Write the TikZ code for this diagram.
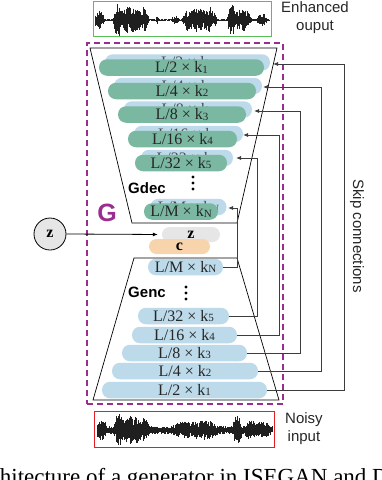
\documentclass[tikz,border=0pt]{standalone}
\usepackage{fontspec}
\setmainfont{Liberation Serif}
\setsansfont{Liberation Sans}
\usetikzlibrary{arrows.meta}
\definecolor{gbar}{RGB}{122,184,162}
\definecolor{bbar}{RGB}{188,218,234}
\definecolor{zbarc}{RGB}{230,230,230}
\definecolor{cbarc}{RGB}{247,212,172}
\definecolor{gpurp}{RGB}{155,45,145}
\definecolor{wgreen}{RGB}{90,190,90}
\definecolor{wred}{RGB}{228,30,36}
\definecolor{skipc}{RGB}{60,60,60}
\newcommand\kk[1]{k{\fontsize{11}{11}\selectfont\raisebox{-0.6pt}{#1}}}
\newcommand\lab[2]{L/#1 × \kk{#2}}
\begin{document}
\begin{tikzpicture}[x=1pt,y=-1pt,
  bar/.style={rounded corners=8pt,minimum height=16.5pt,inner sep=0pt,
    font=\fontsize{16}{16}\selectfont,text=black!85},
  dec/.style={bar,fill=gbar},
  enc/.style={bar,fill=bbar},
  shad/.style={bar,fill=bbar,text=black!70},
  small/.style={rounded corners=7.5pt,minimum height=15pt,inner sep=0pt,
    font=\fontsize{16}{16}\selectfont\bfseries},
  wave/.style={line width=0.55pt,black!88},
  trap/.style={draw=black,line width=0.7pt},
  skipl/.style={draw=skipc,line width=0.8pt,-{Latex[length=5pt,width=4pt]}},
  sidelab/.style={font=\fontsize{15}{18}\selectfont\sffamily,align=center,text=black!85,inner sep=0pt},
  glab/.style={font=\fontsize{15}{15}\selectfont\sffamily\bfseries,inner sep=0pt},
  gdot/.style={fill=black}]
\useasboundingbox (0,0) rectangle (382,480);

% enhanced output waveform
\node[draw=wgreen,line width=0.8pt,minimum width=178pt,minimum height=35pt,inner sep=0pt] (enh) at (182,18.5) {};
\pgfmathsetseed{11}
\foreach \x in {95,95.5,...,269}{
  \pgfmathsetmacro\e{0.8+9*max(0,1-((\x-99)/6)^2)+16*max(0,1-((\x-117)/4)^2)+13*max(0,1-((\x-131)/16)^2)+8*max(0,1-((\x-145)/4)^2)+5*max(0,1-((\x-157)/1.5)^2)+4*max(0,1-((\x-175)/4)^2)+7*max(0,1-((\x-186)/4)^2)+12*max(0,1-((\x-199)/14)^2)+9*max(0,1-((\x-212)/5)^2)+16*max(0,1-((\x-231)/4)^2)+11*max(0,1-((\x-242)/10)^2)+6*max(0,1-((\x-262)/6)^2)}
  \pgfmathsetmacro\a{min(16,\e*(0.25+0.75*rnd))}
  \pgfmathsetmacro\b{min(16,\e*(0.25+0.75*rnd))}
  \draw[wave] (\x,20-\a) -- (\x,20+\b);
}
\node[sidelab] (enhl) at (315,18) {Enhanced\\ouput};

% G box
\node[draw=gpurp,line width=1.8pt,dash pattern=on 6pt off 4pt,minimum width=196pt,minimum height=361pt,inner sep=0pt] (Gbox) at (185,223.5) {};
\node[font=\fontsize{25}{25}\selectfont\sffamily\bfseries,text=gpurp,inner sep=0pt] (G) at (107,213) {G};

% decoder bars
\node[shad,minimum width=165pt] (s1) at (187.5,62.5) {\lab{2}{1}};
\node[dec,minimum width=165pt] (d1) at (181.5,67.5) {\lab{2}{1}};
\node[shad,minimum width=148pt] (s2) at (188,86) {\lab{4}{2}};
\node[dec,minimum width=148pt] (d2) at (182,91) {\lab{4}{2}};
\node[shad,minimum width=128pt] (s3) at (188,109.5) {\lab{8}{3}};
\node[dec,minimum width=128pt] (d3) at (182,114.5) {\lab{8}{3}};
\node[shad,minimum width=109pt] (s4) at (188.5,134) {\lab{16}{4}};
\node[dec,minimum width=109pt] (d4) at (182.5,139) {\lab{16}{4}};
\node[shad,minimum width=92pt] (s5) at (187,158) {\lab{32}{5}};
\node[dec,minimum width=92pt] (d5) at (181,163) {\lab{32}{5}};
\node[shad,minimum width=76pt] (sN) at (188.5,207) {\lab{M}{N}};
\node[dec,minimum width=74pt] (dN) at (181,211.5) {\lab{M}{N}};
\fill[gdot] (193,177) circle[radius=1.7pt] (193,183) circle[radius=1.7pt] (193,189) circle[radius=1.7pt];
\node[glab] (gdec) at (147,188) {Gdec};
\draw[trap] (90,48) -- (277,48) -- (237,223) -- (132,223) -- cycle;

% latent
\node[small,fill=zbarc,minimum width=58pt] (zb) at (191,234.5) {z};
\node[small,fill=cbarc,minimum width=61pt] (cb) at (179.5,246.5) {c};
\node[circle,draw=black,line width=0.8pt,fill=zbarc,minimum size=32pt,inner sep=0pt,font=\fontsize{16}{16}\selectfont\bfseries] (zc) at (50,234) {z};
\draw[draw=black,line width=0.8pt,-{Latex[length=5pt,width=4pt]},shorten >=4pt] (zc.east) -- (zb.west);

% encoder bars
\node[enc,minimum width=75pt] (eN) at (185.5,267) {\lab{M}{N}};
\fill[gdot] (186,287) circle[radius=1.7pt] (186,293) circle[radius=1.7pt] (186,299) circle[radius=1.7pt];
\node[glab] (genc) at (147,292) {Genc};
\node[enc,minimum width=91pt] (e5) at (183.5,316) {\lab{32}{5}};
\node[enc,minimum width=105pt] (e4) at (184.5,335) {\lab{16}{4}};
\node[enc,minimum width=125pt] (e3) at (184.5,353) {\lab{8}{3}};
\node[enc,minimum width=146pt] (e2) at (185,371) {\lab{4}{2}};
\node[enc,minimum width=165pt] (e1) at (184.5,390) {\lab{2}{1}};
\draw[trap] (134,258) -- (237,258) -- (279,400) -- (93,400) -- cycle;

% skip connections
\coordinate (t1) at (273,64);
\coordinate (t2) at (263,87);
\coordinate (t3) at (254,111);
\coordinate (t4) at (243,135);
\coordinate (t5) at (236,158);
\coordinate (tN) at (228,208);
\coordinate (v1) at (344,0);
\coordinate (v2) at (321,0);
\coordinate (v3) at (300,0);
\coordinate (v4) at (279,0);
\coordinate (v5) at (257,0);
\coordinate (vN) at (237.5,0);
\draw[skipl] (e1.east) -- (e1.east -| v1) -- (v1 |- t1) -- (t1);
\draw[skipl] (e2.east) -- (e2.east -| v2) -- (v2 |- t2) -- (t2);
\draw[skipl] (e3.east) -- (e3.east -| v3) -- (v3 |- t3) -- (t3);
\draw[skipl] (e4.east) -- (e4.east -| v4) -- (v4 |- t4) -- (t4);
\draw[skipl] (e5.east) -- (e5.east -| v5) -- (v5 |- t5) -- (t5);
\draw[skipl] (eN.east) -- (eN.east -| vN) -- (vN |- tN) -- (tN);
\node[sidelab,rotate=-90] (skl) at (357,236) {Skip connections};

% noisy input waveform
\node[draw=wred,line width=0.8pt,minimum width=180pt,minimum height=36pt,inner sep=0pt] (noisy) at (184,429) {};
\pgfmathsetseed{5}
\foreach \x in {97,97.5,...,272}{
  \pgfmathsetmacro\e{4+7*max(0,1-((\x-101)/6)^2)+12*max(0,1-((\x-118)/4)^2)+10*max(0,1-((\x-132)/16)^2)+6*max(0,1-((\x-145)/4)^2)+5*max(0,1-((\x-187)/16)^2)+6*max(0,1-((\x-206)/12)^2)+12*max(0,1-((\x-237)/5)^2)+6*max(0,1-((\x-250)/6)^2)+4*max(0,1-((\x-262)/10)^2)}
  \pgfmathsetmacro\a{min(16,\e*(0.3+0.7*rnd))}
  \pgfmathsetmacro\b{min(16,\e*(0.3+0.7*rnd))}
  \draw[wave] (\x,430-\a) -- (\x,430+\b);
}
\node[sidelab,align=center] (noisyl) at (304,428.5) {Noisy\\input};

% caption (cut by the picture edge)
\begin{scope}
\clip (0,0) rectangle (382,480);
\node[anchor=base west,inner sep=0pt,font=\fontsize{23}{23}\selectfont] (cap) at (-34.8,484) {Architecture of a generator in ISEGAN and DSEGAN};
\end{scope}
\end{tikzpicture}
\end{document}
